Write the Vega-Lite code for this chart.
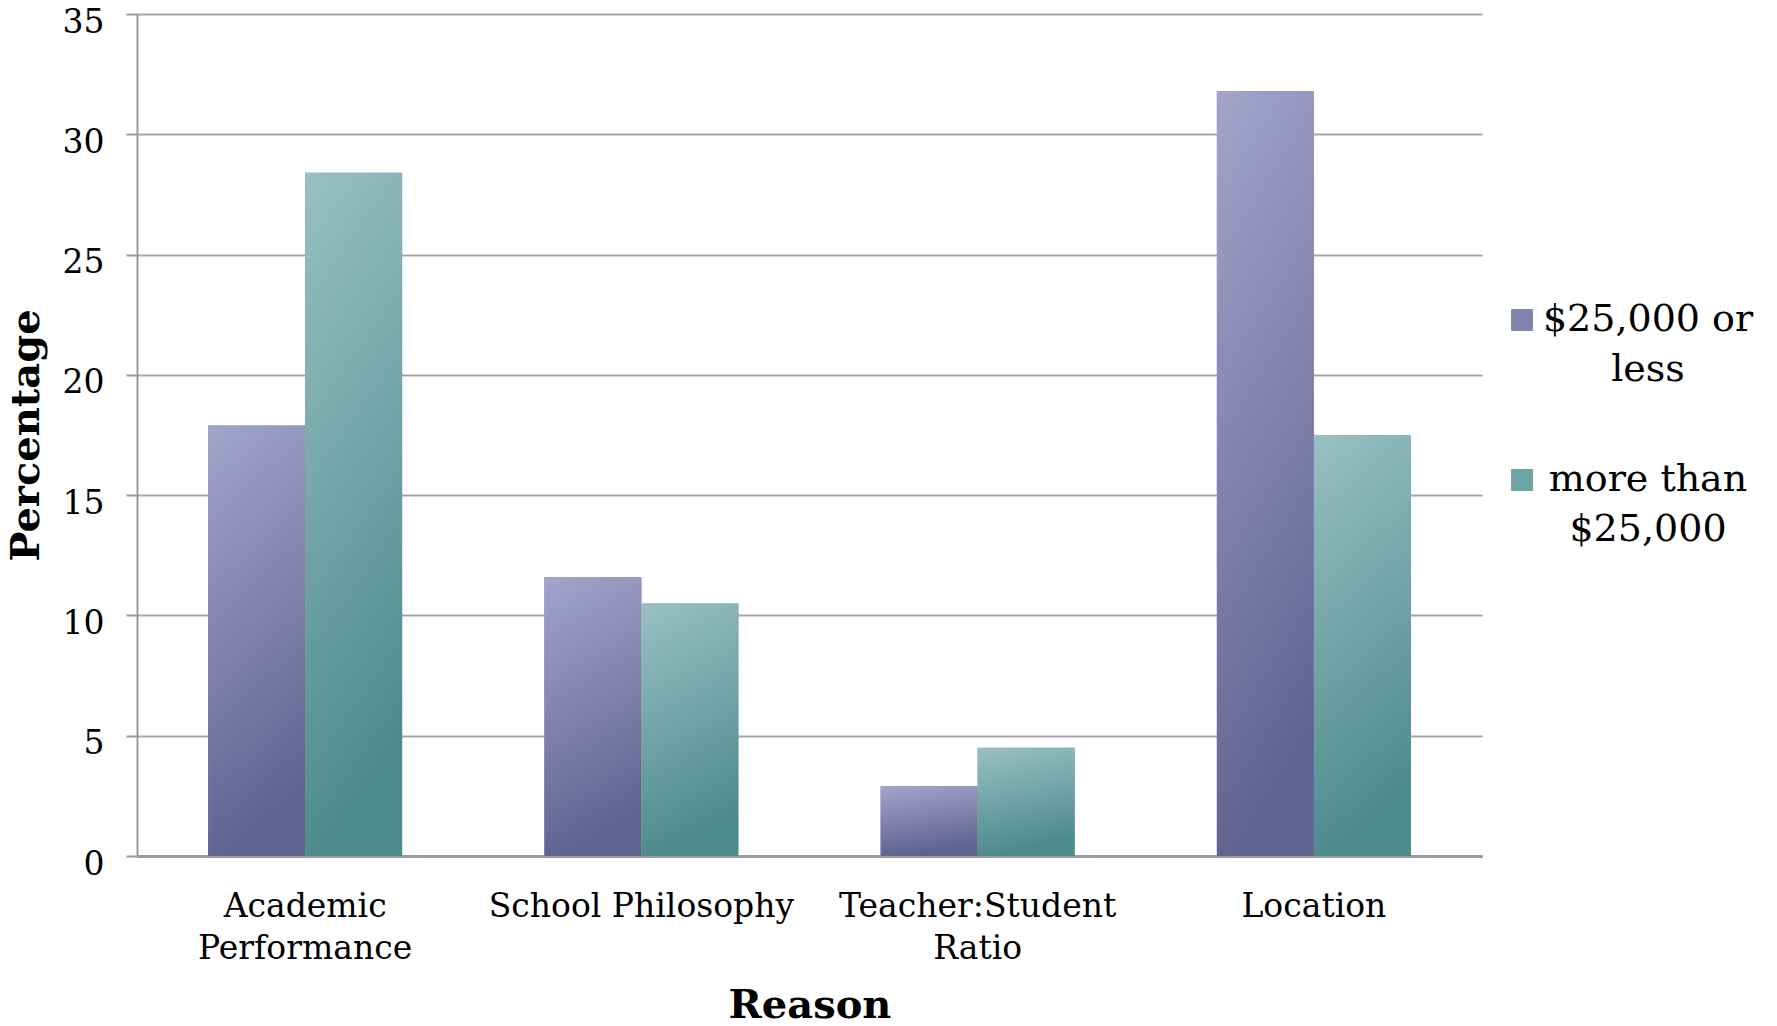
{
  "$schema": "https://vega.github.io/schema/vega-lite/v6.json",
  "background": "white",
  "autosize": {"type": "none"},
  "padding": {"left": 137, "top": 14, "right": 295, "bottom": 170},
  "width": 1345,
  "height": 842,
  "data": {
    "values": [
      {"reason": "Academic Performance", "income": "$25,000 or less", "pct": 17.9},
      {"reason": "Academic Performance", "income": "more than $25,000", "pct": 28.4},
      {"reason": "School Philosophy", "income": "$25,000 or less", "pct": 11.6},
      {"reason": "School Philosophy", "income": "more than $25,000", "pct": 10.5},
      {"reason": "Teacher:Student Ratio", "income": "$25,000 or less", "pct": 2.9},
      {"reason": "Teacher:Student Ratio", "income": "more than $25,000", "pct": 4.5},
      {"reason": "Location", "income": "$25,000 or less", "pct": 31.8},
      {"reason": "Location", "income": "more than $25,000", "pct": 17.5}
    ]
  },
  "encoding": {
    "x": {
      "field": "reason",
      "type": "nominal",
      "sort": null,
      "title": "Reason",
      "scale": {"paddingInner": 0.423, "paddingOuter": 0.2115},
      "axis": {
        "labelAngle": 0,
        "ticks": false,
        "domainColor": "#999999",
        "domainWidth": 3,
        "labelPadding": 34,
        "labelLineHeight": 42,
        "labelLimit": 400,
        "labelExpr": "datum.label == 'Academic Performance' ? ['Academic', 'Performance'] : datum.label == 'Teacher:Student Ratio' ? ['Teacher:Student', 'Ratio'] : datum.label",
        "titlePadding": 20
      }
    },
    "xOffset": {"field": "income", "type": "nominal", "scale": {"paddingInner": 0}},
    "y": {
      "field": "pct",
      "type": "quantitative",
      "title": "Percentage",
      "scale": {"domain": [0, 35], "nice": false},
      "axis": {
        "values": [0, 5, 10, 15, 20, 25, 30, 35],
        "tickSize": 11,
        "tickColor": "#999999",
        "tickWidth": 2,
        "domainColor": "#999999",
        "domainWidth": 2,
        "gridColor": "#a6a6a6",
        "gridWidth": 2,
        "labelPadding": 22,
        "labelOffset": 8,
        "titlePadding": 16
      }
    }
  },
  "layer": [
    {
      "mark": {"type": "bar"},
      "encoding": {
        "color": {
          "field": "income",
          "type": "nominal",
          "title": null,
          "scale": {"range": ["#8283ae", "#6ea4a6"]},
          "legend": {
            "orient": "none",
            "legendX": 1366,
            "legendY": 287,
            "symbolType": "square",
            "symbolSize": 480,
            "symbolStrokeWidth": 0,
            "rowPadding": 72,
            "labelFontSize": 38,
            "labelAlign": "center",
            "labelOffset": 107,
            "labelLimit": 400,
            "labelExpr": "datum.label == '$25,000 or less' ? ['$25,000 or', 'less'] : ['more than', '$25,000']"
          }
        }
      }
    },
    {
      "mark": {"type": "bar"},
      "encoding": {
        "color": {
          "condition": {
            "test": "datum.income == '$25,000 or less'",
            "value": {
              "gradient": "linear", "x1": 0, "y1": 0, "x2": 0.2, "y2": 1,
              "stops": [{"offset": 0, "color": "#a3a4ca"}, {"offset": 1, "color": "#626291"}]
            }
          },
          "value": {
            "gradient": "linear", "x1": 0, "y1": 0, "x2": 0.2, "y2": 1,
            "stops": [{"offset": 0, "color": "#99c0c3"}, {"offset": 1, "color": "#4d8a8c"}]
          }
        }
      }
    }
  ],
  "config": {
    "view": {"stroke": null},
    "font": "DejaVu Serif",
    "style": {"guide-label": {"lineHeight": 50}},
    "axis": {
      "labelFont": "DejaVu Serif",
      "labelFontSize": 33,
      "labelColor": "#000000",
      "titleFont": "DejaVu Serif",
      "titleFontSize": 40,
      "titleFontWeight": "bold",
      "titleColor": "#000000"
    },
    "axisX": {"grid": false},
    "legend": {"labelFont": "DejaVu Serif", "labelColor": "#000000"}
  }
}
